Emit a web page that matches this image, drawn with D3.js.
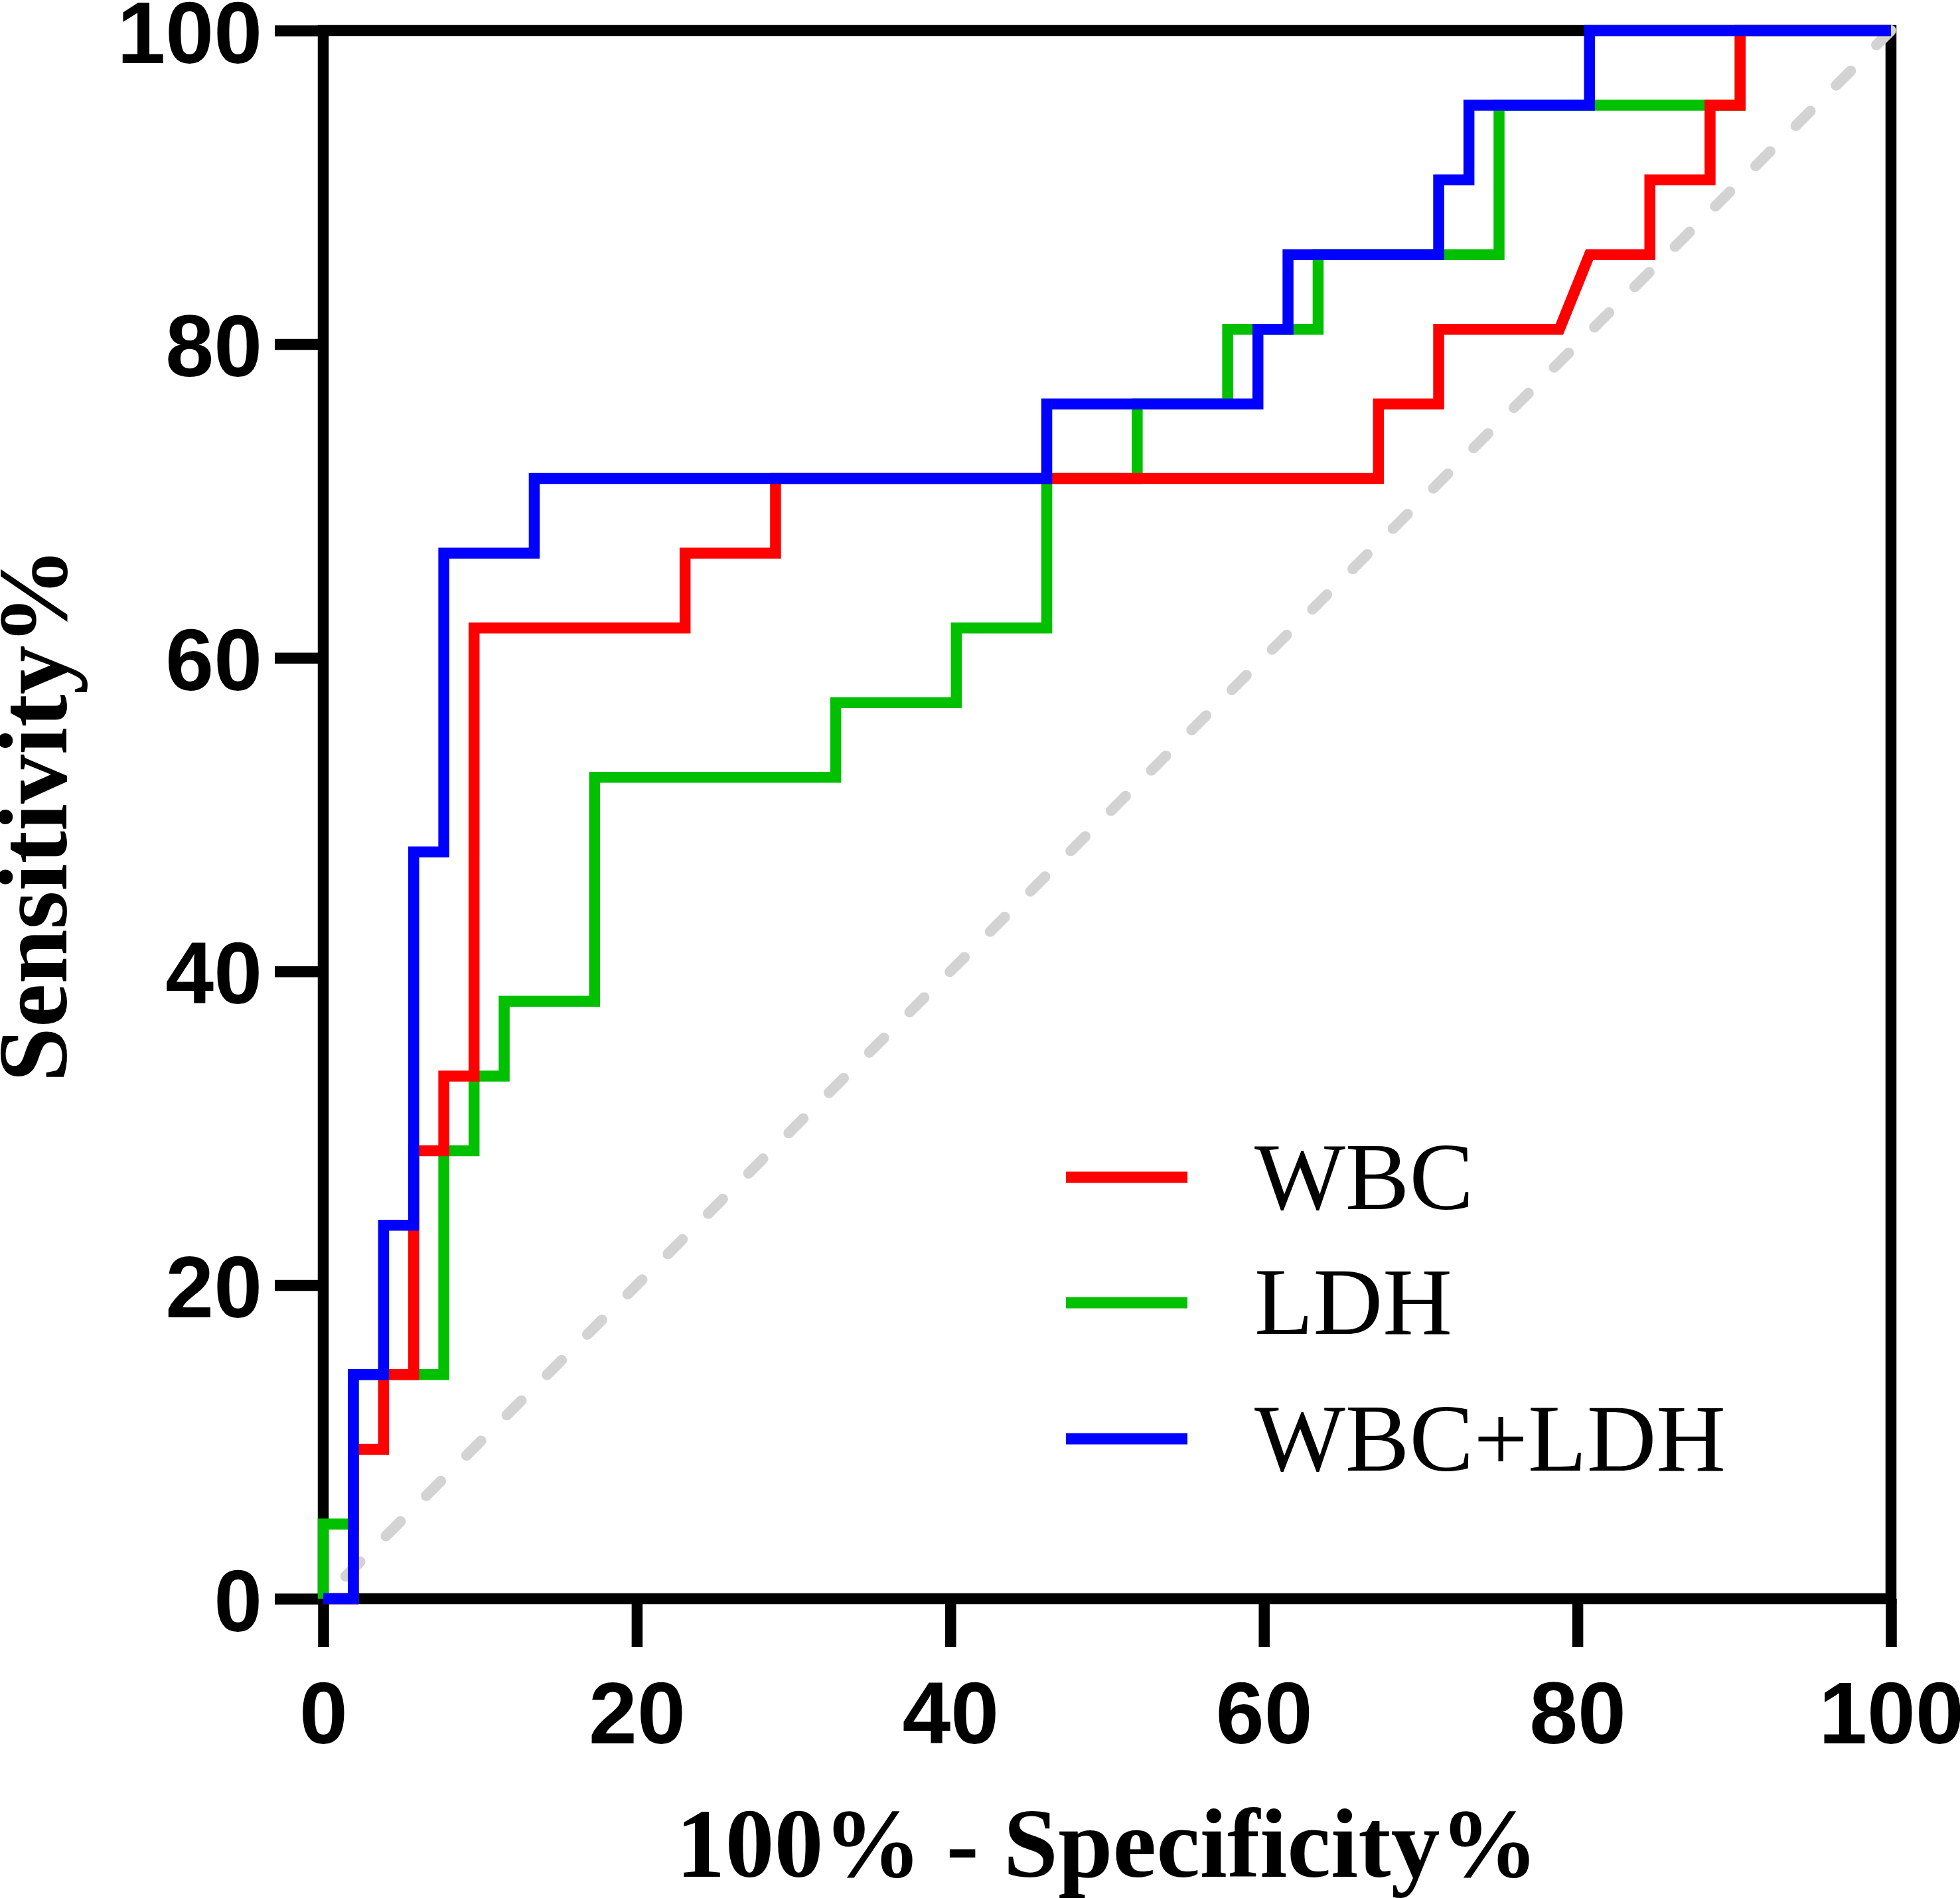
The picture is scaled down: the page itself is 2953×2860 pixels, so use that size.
<!DOCTYPE html>
<html>
<head>
<meta charset="utf-8">
<script src="https://cdn.jsdelivr.net/npm/d3@7"></script>
<style>
  html, body { margin: 0; padding: 0; background: #ffffff; }
  svg { display: block; }
</style>
</head>
<body>
<svg id="chart" width="2953" height="2860"></svg>
<script>
// ---------- data ----------
const xTicks = [0, 20, 40, 60, 80, 100];
const yTicks = [0, 20, 40, 60, 80, 100];

const seriesNames = ["WBC", "LDH", "WBC+LDH"];
const seriesColors = ["#ff0000", "#00c000", "#0000ff"];

// 100% - Specificity% (x) and Sensitivity% (y)
const wbcX = [0, 1.92, 1.92, 3.85, 3.85, 5.77, 5.77, 7.69, 7.69, 9.62, 9.62, 23.08, 23.08, 28.85, 28.85, 67.31, 67.31, 71.15, 71.15, 78.85, 80.77, 84.62, 84.62, 88.46, 88.46, 90.38, 90.38, 100];
const wbcY = [0, 0, 9.52, 9.52, 14.29, 14.29, 28.57, 28.57, 33.33, 33.33, 61.9, 61.9, 66.67, 66.67, 71.43, 71.43, 76.19, 76.19, 80.95, 80.95, 85.71, 85.71, 90.48, 90.48, 95.24, 95.24, 100, 100];

const ldhX = [0, 0, 1.92, 1.92, 7.69, 7.69, 9.62, 9.62, 11.54, 11.54, 17.31, 17.31, 32.69, 32.69, 40.38, 40.38, 46.15, 46.15, 51.92, 51.92, 57.69, 57.69, 63.46, 63.46, 75, 75, 90.38, 90.38, 100];
const ldhY = [0, 4.76, 4.76, 14.29, 14.29, 28.57, 28.57, 33.33, 33.33, 38.1, 38.1, 52.38, 52.38, 57.14, 57.14, 61.9, 61.9, 71.43, 71.43, 76.19, 76.19, 80.95, 80.95, 85.71, 85.71, 95.24, 95.24, 100, 100];

const bothX = [0, 1.92, 1.92, 3.85, 3.85, 5.77, 5.77, 7.69, 7.69, 13.46, 13.46, 46.15, 46.15, 59.62, 59.62, 61.54, 61.54, 71.15, 71.15, 73.08, 73.08, 80.77, 80.77, 100];
const bothY = [0, 0, 14.29, 14.29, 23.81, 23.81, 47.62, 47.62, 66.67, 66.67, 71.43, 71.43, 76.19, 76.19, 80.95, 80.95, 85.71, 85.71, 90.48, 90.48, 95.24, 95.24, 100, 100];

const refLineX = [0, 100];
const refLineY = [0, 100];

// ---------- layout ----------
const svg = d3.select("#chart");
const plotL = 487, plotR = 2849, plotT = 46, plotB = 2409;
const x = d3.scaleLinear().domain([0, 100]).range([plotL, plotR]);
const y = d3.scaleLinear().domain([0, 100]).range([plotB, plotT]);
const lw = 16.5;
const tickLen = 73;

// frame
svg.append("rect")
  .attr("x", plotL).attr("y", plotT)
  .attr("width", plotR - plotL).attr("height", plotB - plotT)
  .attr("fill", "none").attr("stroke", "#000").attr("stroke-width", lw)
  .attr("stroke-linejoin", "miter");

// axes (ticks + labels via d3 axes)
const xAxis = d3.axisBottom(x).tickValues(xTicks).tickSize(tickLen).tickPadding(0).tickFormat(d3.format("d"));
const yAxis = d3.axisLeft(y).tickValues(yTicks).tickSize(tickLen).tickPadding(0).tickFormat(d3.format("d"));

const gx = svg.append("g").attr("transform", `translate(0,${plotB})`).call(xAxis);
const gy = svg.append("g").attr("transform", `translate(${plotL},0)`).call(yAxis);
[gx, gy].forEach(g => {
  g.select(".domain").remove();
  g.selectAll(".tick line").attr("stroke", "#000").attr("stroke-width", lw);
  g.selectAll(".tick text")
    .attr("fill", "#000")
    .style("font-family", "'Liberation Sans', Arial, Helvetica, sans-serif")
    .style("font-weight", "bold")
    .style("font-size", "131px");
});
gx.selectAll(".tick text").attr("y", 2627 - plotB).attr("dy", null).attr("text-anchor", "middle");
gy.selectAll(".tick text").attr("x", 395 - plotL).attr("dy", null).attr("y", 48).attr("text-anchor", "end");

// diagonal reference line
const lineGen = d3.line().x(d => x(d[0])).y(d => y(d[1])).curve(d3.curveLinear);
svg.append("path")
  .datum(refLineX.map((v, i) => [v, refLineY[i]]))
  .attr("d", lineGen)
  .attr("fill", "none")
  .attr("stroke", "#d3d3d3")
  .attr("stroke-width", 16)
  .attr("stroke-linecap", "round")
  .attr("stroke-dasharray", "31 54.85")
  .attr("stroke-dashoffset", 38.1);

// ROC curves (drawn green, red, blue so blue ends on top)
const series = [
  { name: seriesNames[0], color: seriesColors[0], xs: wbcX, ys: wbcY },
  { name: seriesNames[1], color: seriesColors[1], xs: ldhX, ys: ldhY },
  { name: seriesNames[2], color: seriesColors[2], xs: bothX, ys: bothY }
];
const drawOrder = [1, 0, 2];
drawOrder.forEach(i => {
  const s = series[i];
  svg.append("path")
    .datum(s.xs.map((v, j) => [v, s.ys[j]]))
    .attr("d", lineGen)
    .attr("fill", "none")
    .attr("stroke", s.color)
    .attr("stroke-width", lw)
    .attr("stroke-linejoin", "miter")
    .attr("stroke-miterlimit", 10)
    .attr("stroke-linecap", "butt");
});

// legend
const legendLineY = [1774, 1963, 2168];
const legendTextY = [1822, 2010, 2216];
const legend = svg.append("g");
series.forEach((s, i) => {
  legend.append("line")
    .attr("x1", 1606).attr("x2", 1789)
    .attr("y1", legendLineY[i]).attr("y2", legendLineY[i])
    .attr("stroke", s.color).attr("stroke-width", 17);
  legend.append("text")
    .attr("x", 1890).attr("y", legendTextY[i])
    .attr("fill", "#000")
    .style("font-family", "'Liberation Serif', 'Times New Roman', Times, serif")
    .style("font-size", "145px")
    .text(s.name);
});

// axis titles
svg.append("text")
  .attr("x", (plotL + plotR) / 2).attr("y", 2828)
  .attr("text-anchor", "middle")
  .attr("fill", "#000")
  .style("font-family", "'Liberation Serif', 'Times New Roman', Times, serif")
  .style("font-weight", "bold")
  .style("font-size", "148px")
  .text("100% - Specificity%");

svg.append("text")
  .attr("transform", `translate(100,${(plotT + plotB) / 2}) rotate(-90)`)
  .attr("text-anchor", "middle")
  .attr("fill", "#000")
  .style("font-family", "'Liberation Serif', 'Times New Roman', Times, serif")
  .style("font-weight", "bold")
  .style("font-size", "148px")
  .text("Sensitivity%");
</script>
</body>
</html>
